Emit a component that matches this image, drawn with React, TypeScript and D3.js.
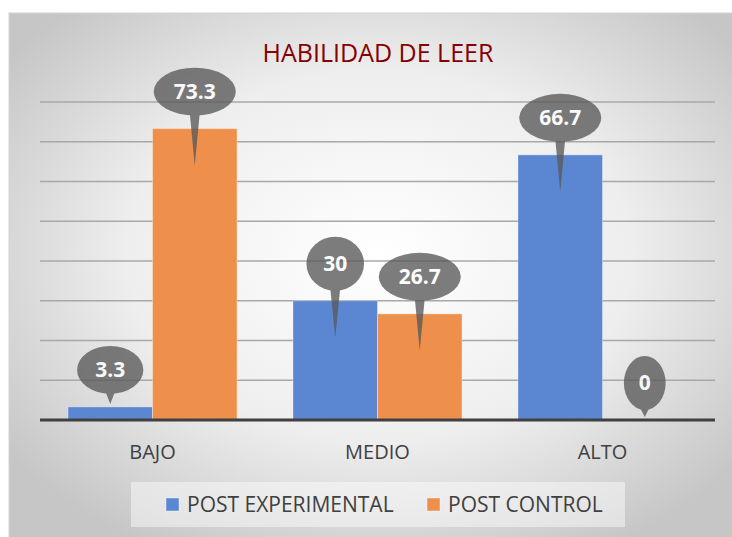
import React from "react";
import * as d3 from "d3";

const categories = ["BAJO", "MEDIO", "ALTO"];
const seriesNames = ["POST EXPERIMENTAL", "POST CONTROL"];
const postExperimental = [3.3, 30, 66.7];
const postControl = [73.3, 26.7, 0];
const gridTicks = [0, 10, 20, 30, 40, 50, 60, 70, 80];
const colors = ["#5b87d2", "#ef8f4c"];

const W = 732;
const H = 537;
const font = "'Open Sans', 'Noto Sans', sans-serif";

// rough label width so the callout ellipse hugs the number
const labelWidth = (s: string) =>
  s.split("").reduce((a, c) => a + (c === "." ? 6 : 11), 0);

const App = () => {
  const x0 = d3.scaleBand().domain(categories).range([40, 715]).paddingInner(0).paddingOuter(0);
  const x1 = d3
    .scaleBand()
    .domain(seriesNames)
    .range([0, x0.bandwidth()])
    .paddingInner(0)
    .paddingOuter(0.331);
  const y = d3.scaleLinear().domain([0, 80]).range([420, 102]);

  const rows = categories.flatMap((c, i) => [
    { cat: c, s: seriesNames[0], v: postExperimental[i], color: colors[0] },
    { cat: c, s: seriesNames[1], v: postControl[i], color: colors[1] },
  ]);

  const callout = (d: (typeof rows)[number], k: number) => {
    const cx = (x0(d.cat) as number) + (x1(d.s) as number) + x1.bandwidth() / 2;
    const top = y(d.v);
    const cy = top - 37;
    const tw = labelWidth(String(d.v));
    const rx = (tw + 18) * 0.72;
    const ry = tw < 25 ? 27 : 24;
    const tip = y(0) - top > 40 ? top + 37 : top - 3;
    const path = `M${cx - 5},${cy + ry - 3} L${cx},${tip} L${cx + 5},${cy + ry - 3} Z`;
    return (
      <g key={"c" + k} opacity={0.78}>
        <path d={path} fill="#595959" />
        <ellipse cx={cx} cy={cy} rx={rx} ry={ry} fill="#595959" />
        <text
          x={cx}
          y={cy + 7}
          textAnchor="middle"
          fill="#ffffff"
          fontFamily={font}
          fontWeight="bold"
          fontSize={21}
        >
          {d.v}
        </text>
      </g>
    );
  };

  return (
    <svg
      width={W}
      height={H}
      style={{ position: "absolute", left: 0, top: 0, background: "#ffffff" }}
    >
      <defs>
        <radialGradient id="bg" cx="50%" cy="45%" r="62%">
          <stop offset="0%" stopColor="#ffffff" />
          <stop offset="55%" stopColor="#eeeeee" />
          <stop offset="100%" stopColor="#c6c6c6" />
        </radialGradient>
      </defs>
      <rect x={9} y={13} width={740} height={540} fill="url(#bg)" stroke="#d4d4d4" strokeWidth={1} />

      <text
        x={378}
        y={62}
        textAnchor="middle"
        fill="#850000"
        fontFamily={font}
        fontSize={25}
      >
        HABILIDAD DE LEER
      </text>

      {gridTicks.slice(1).map((t) => (
        <line key={t} x1={40} x2={715} y1={y(t)} y2={y(t)} stroke="#a8a8a8" strokeWidth={1.3} />
      ))}

      {rows.map((d, k) => (
        <rect
          key={k}
          x={(x0(d.cat) as number) + (x1(d.s) as number)}
          y={y(d.v)}
          width={x1.bandwidth()}
          height={y(0) - y(d.v)}
          fill={d.color}
          stroke="#ffffff"
          strokeOpacity={0.35}
          strokeWidth={1}
        />
      ))}

      <line x1={40} x2={715} y1={y(0)} y2={y(0)} stroke="#404040" strokeWidth={3} />

      {rows.map((d, k) => callout(d, k))}

      {categories.map((c) => (
        <text
          key={c}
          x={(x0(c) as number) + x0.bandwidth() / 2}
          y={459}
          textAnchor="middle"
          fill="#404040"
          fontFamily={font}
          fontSize={20}
        >
          {c}
        </text>
      ))}

      <rect x={131} y={482} width={494} height={45} fill="#ffffff" fillOpacity={0.45} />
      {seriesNames.map((s, i) => {
        const lx = i === 0 ? 166 : 427;
        return (
          <g key={s}>
            <rect x={lx} y={498} width={13} height={13} fill={colors[i]} stroke="#ffffff" strokeOpacity={0.4} />
            <text x={lx + 21} y={512} fill="#404040" fontFamily={font} fontSize={21}>
              {s}
            </text>
          </g>
        );
      })}
    </svg>
  );
};

export default App;
